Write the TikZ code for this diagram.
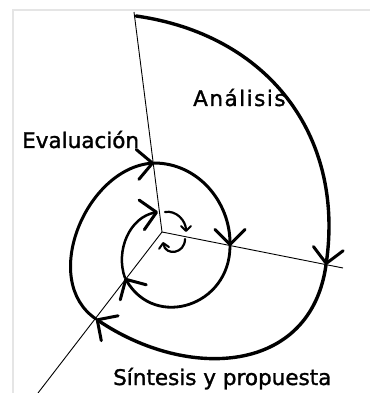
\documentclass[tikz,border=0pt]{standalone}
\usepackage{fontspec}
\setmainfont{DejaVu Sans}[AutoFakeBold=1.4]
\usetikzlibrary{arrows.meta}

\begin{document}
\begin{tikzpicture}[
    x=1pt, y=1pt,
    ray/.style={line width=0.9pt, color=black},
    spiral/.style={
        line width=3.4pt, line cap=round, color=black,
        -{Straight Barb[length=15pt, width=30pt, line width=3pt, round]}
    },
    curl/.style={
        line width=2.2pt, line cap=round, color=black,
        -{Straight Barb[length=5pt, width=10pt, line width=2pt, round]}
    },
    lbl/.style={inner sep=0pt, anchor=base west, font=\fontsize{21.5}{24}\selectfont\bfseries},
]
\useasboundingbox (0,0) rectangle (370,393);
\draw[black!10, line width=1.5pt] (13,0) -- (13,383) -- (370,383);

\coordinate (o) at (162,161);
\coordinate (top) at (134,381);
\coordinate (east) at (343,125);
\coordinate (sw) at (38,0);

\coordinate (p0) at (136,377);
\coordinate (p1) at (326,128);
\coordinate (p2) at (96,74);
\coordinate (p3) at (154,230);
\coordinate (p4) at (230,147);
\coordinate (p5) at (125,115);
\coordinate (p6) at (158,181);
\coordinate (c0) at (165,181);
\coordinate (c1) at (186,161);
\coordinate (l0) at (185,154);
\coordinate (l1) at (163,151);

\foreach \e in {top, east, sw}
  \draw[ray] (o) -- (\e);

\draw[spiral] (p0) to[out=-8, in=82, looseness=1.08] (p1);
\draw[spiral] (p1) to[out=-98, in=-34, looseness=1.2] (p2);
\draw[spiral, line width=3pt] (p2) to[out=146, in=185, looseness=1.05] (p3);
\draw[spiral, line width=3pt] (p3) to[out=0, in=90] (p4);
\draw[spiral, line width=2.8pt] (p4) to[out=-90, in=-60, looseness=1.4] (p5);
\draw[spiral, line width=2.5pt] (p5) to[out=110, in=190] (p6);
\draw[curl] (c0) to[out=10, in=90] (c1);
\draw[curl] (l0) to[out=-90, in=-80, looseness=1.7] (l1);

\node[lbl] (eval) at (22,245) {Evaluación};
\node[lbl] (anal) at (193,287) {\addfontfeature{LetterSpace=7}Análisis};
\node[lbl] (sint) at (113,8) {Síntesis y propuesta};

\end{tikzpicture}
\end{document}
